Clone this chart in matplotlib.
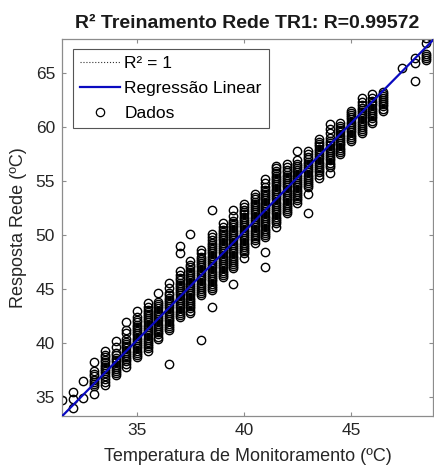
import matplotlib
matplotlib.use("Agg")
import matplotlib.pyplot as plt
from matplotlib.lines import Line2D
import numpy as np

plt.rcParams['font.family'] = ['Liberation Sans', 'DejaVu Sans']

# ---- data ----
titulo = "R² Treinamento Rede TR1: R=0.99572"
xlabel_txt = "Temperatura de Monitoramento (ºC)"
ylabel_txt = "Resposta Rede (ºC)"
legenda = ["R² = 1", "Regressão Linear", "Dados"]

x_colunas = [31.5, 32.0, 32.5, 33.0, 33.5, 34.0, 34.5, 35.0, 35.5, 36.0, 36.5,
             37.0, 37.5, 38.0, 38.5, 39.0, 39.5, 40.0, 40.5, 41.0, 41.5, 42.0,
             42.5, 43.0, 43.5, 44.0, 44.5, 45.0, 45.5, 46.0, 46.5, 47.4, 48.0, 48.5]

y_31_5 = [34.7]
y_32_0 = [34.0, 34.8, 35.5]
y_32_5 = [34.9, 36.5]
y_33_0 = [35.3, 36.0, 36.2, 36.4, 36.6, 36.9, 37.1, 37.4, 38.2]
y_33_5 = [36.1, 36.4, 36.7, 36.9, 37.2, 37.4, 37.6, 37.8, 38.0, 38.2, 38.4, 38.7, 38.9, 39.3]
y_34_0 = [37.0, 37.2, 37.4, 37.6, 37.8, 38.0, 38.2, 38.4, 38.6, 38.9, 39.1, 39.6, 40.2]
y_34_5 = [37.8, 38.1, 38.3, 38.5, 38.7, 38.9, 39.1, 39.3, 39.5, 39.7, 39.9, 40.1, 40.4,
          40.9, 41.2, 41.9]
y_35_0 = [38.7, 38.9, 39.1, 39.3, 39.5, 39.7, 39.9, 40.1, 40.3, 40.5, 40.7, 40.9, 41.1,
          41.3, 41.5, 41.7, 41.9, 42.1, 42.4, 43.0]
y_35_5 = [39.3, 39.5, 39.7, 39.9, 40.1, 40.3, 40.5, 40.7, 40.9, 41.1, 41.3, 41.5, 41.7,
          41.9, 42.1, 42.3, 42.5, 42.7, 42.9, 43.1, 43.3, 43.7]
y_36_0 = [40.4, 40.6, 40.8, 41.0, 41.2, 41.4, 41.6, 41.8, 42.0, 42.2, 42.4, 42.6, 42.8,
          43.0, 43.2, 43.4, 43.6, 43.8, 44.6]
y_36_5 = [38.1, 41.2, 41.4, 41.6, 41.8, 42.0, 42.2, 42.4, 42.6, 42.8, 43.0, 43.2, 43.4,
          43.6, 43.8, 44.0, 44.2, 44.4, 44.6, 45.1, 45.6]
y_37_0 = [42.4, 42.6, 42.8, 43.0, 43.2, 43.4, 43.6, 43.8, 44.0, 44.2, 44.4, 44.6, 44.8,
          45.0, 45.2, 45.4, 45.6, 45.8, 46.0, 46.3, 46.7, 48.3, 49.0]
y_37_5 = [42.8, 43.0, 43.2, 43.4, 43.6, 43.8, 44.0, 44.2, 44.4, 44.6, 44.8, 45.0, 45.2,
          45.4, 45.6, 45.8, 46.0, 46.2, 46.4, 46.6, 46.8, 47.0, 47.2, 47.6, 50.1]
y_38_0 = [40.3, 44.4, 44.6, 44.8, 45.0, 45.2, 45.4, 45.6, 45.8, 46.0, 46.2, 46.4, 46.6,
          46.8, 47.0, 47.2, 47.4, 47.6, 47.8, 48.0, 48.3, 48.6]
y_38_5 = [43.3, 44.9, 45.1, 45.3, 45.5, 45.7, 45.9, 46.1, 46.3, 46.5, 46.7, 46.9, 47.1,
          47.3, 47.5, 47.7, 47.9, 48.1, 48.3, 48.5, 48.7, 48.9, 49.1, 49.3, 49.5, 49.8,
          50.1, 52.3]
y_39_0 = [46.1, 46.3, 46.5, 46.7, 46.9, 47.1, 47.3, 47.5, 47.7, 47.9, 48.1, 48.3, 48.5,
          48.7, 48.9, 49.1, 49.3, 49.5, 49.7, 49.9, 50.1, 50.3, 50.5, 50.7, 51.1]
y_39_5 = [45.5, 46.9, 47.1, 47.3, 47.5, 47.7, 47.9, 48.1, 48.3, 48.5, 48.7, 48.9, 49.1,
          49.3, 49.5, 49.7, 49.9, 50.1, 50.3, 50.5, 50.7, 50.9, 51.1, 51.3, 51.8, 52.3]
y_40_0 = [47.9, 48.3, 48.5, 48.7, 48.9, 49.1, 49.3, 49.5, 49.7, 49.9, 50.1, 50.3, 50.5,
          50.7, 50.9, 51.1, 51.3, 51.5, 51.7, 51.9, 52.1, 52.3, 52.6, 52.9]
y_40_5 = [49.3, 49.5, 49.7, 49.9, 50.1, 50.3, 50.5, 50.7, 50.9, 51.1, 51.3, 51.5, 51.7,
          51.9, 52.1, 52.3, 52.5, 52.7, 52.9, 53.1, 53.3, 53.5, 53.8]
y_41_0 = [47.0, 48.4, 49.8, 50.0, 50.2, 50.4, 50.6, 50.8, 51.0, 51.2, 51.4, 51.6, 51.8,
          52.0, 52.2, 52.4, 52.6, 52.8, 53.0, 53.2, 53.4, 53.6, 53.8, 54.0, 54.2, 54.4,
          54.8, 55.2]
y_41_5 = [50.7, 51.1, 51.3, 51.5, 51.7, 51.9, 52.1, 52.3, 52.5, 52.7, 52.9, 53.1, 53.3,
          53.5, 53.7, 53.9, 54.1, 54.3, 54.5, 54.7, 54.9, 55.1, 55.3, 55.5, 55.7, 55.9,
          56.2, 56.4]
y_42_0 = [52.0, 52.2, 52.4, 52.6, 52.8, 53.0, 53.2, 53.4, 53.6, 53.8, 54.0, 54.2, 54.4,
          54.6, 54.8, 55.0, 55.2, 55.4, 55.6, 55.8, 56.0, 56.3, 56.6]
y_42_5 = [53.0, 53.2, 53.4, 53.6, 53.8, 54.0, 54.2, 54.4, 54.6, 54.8, 55.0, 55.2, 55.4,
          55.6, 55.8, 56.0, 56.2, 56.4, 56.6, 56.9, 57.8]
y_43_0 = [52.0, 53.8, 54.4, 54.6, 54.8, 55.0, 55.2, 55.4, 55.6, 55.8, 56.0, 56.2, 56.4,
          56.6, 56.8, 57.0, 57.2, 57.5, 57.8]
y_43_5 = [55.3, 55.6, 55.8, 56.0, 56.2, 56.4, 56.6, 56.8, 57.0, 57.2, 57.4, 57.6, 57.8,
          58.0, 58.2, 58.4, 58.6, 58.9]
y_44_0 = [55.7, 56.3, 56.5, 56.7, 56.9, 57.1, 57.3, 57.5, 57.7, 57.9, 58.1, 58.3, 58.5,
          58.7, 59.0, 59.4, 59.8, 60.3]
y_44_5 = [57.5, 57.7, 57.9, 58.1, 58.3, 58.5, 58.7, 58.9, 59.1, 59.3, 59.5, 59.7, 59.9,
          60.1, 60.4]
y_45_0 = [58.7, 58.9, 59.1, 59.3, 59.5, 59.7, 59.9, 60.1, 60.3, 60.5, 60.7, 60.9, 61.1,
          61.3, 61.5]
y_45_5 = [59.4, 59.6, 59.8, 60.0, 60.2, 60.4, 60.6, 60.8, 61.0, 61.2, 61.4, 61.6, 61.8,
          62.0, 62.3, 62.7]
y_46_0 = [60.4, 60.6, 60.8, 61.0, 61.2, 61.4, 61.6, 61.8, 62.0, 62.2, 62.4, 62.7, 63.1]
y_46_5 = [61.5, 61.7, 61.9, 62.1, 62.3, 62.5, 62.7, 62.9, 63.1, 63.2]
y_47_4 = [65.5]
y_48_0 = [64.3, 65.9, 66.4]
y_48_5 = [66.2, 66.4, 66.6, 66.8, 67.8, 68.2]

y_colunas = [y_31_5, y_32_0, y_32_5, y_33_0, y_33_5, y_34_0, y_34_5, y_35_0, y_35_5,
             y_36_0, y_36_5, y_37_0, y_37_5, y_38_0, y_38_5, y_39_0, y_39_5, y_40_0,
             y_40_5, y_41_0, y_41_5, y_42_0, y_42_5, y_43_0, y_43_5, y_44_0, y_44_5,
             y_45_0, y_45_5, y_46_0, y_46_5, y_47_4, y_48_0, y_48_5]

# linear regression coefficients (y = a*x + b)
reg_a = 2.01
reg_b = -30.1

xlim = (31.5, 48.83)
ylim = (33.24, 68.15)
xticks = [35, 40, 45]
yticks = [35, 40, 45, 50, 55, 60, 65]

# ---- figure ----
W, H = 435, 470
fig = plt.figure(figsize=(W / 100, H / 100), dpi=100)
ax = fig.add_axes([62 / W, 1 - 416 / H, (433 - 62) / W, (416 - 39) / H])

xs = np.concatenate([[xc] * len(yc) for xc, yc in zip(x_colunas, y_colunas)])
ys = np.concatenate(y_colunas)
ax.plot(xs, ys, linestyle='none', marker='o', markersize=6.0, markerfacecolor='none',
        markeredgecolor='black', markeredgewidth=1.0, zorder=2)

xl = np.array(xlim)
ax.plot(xl, reg_a * xl + reg_b, color='#0a0ac0', linewidth=1.6, zorder=3)

ax.set_xlim(*xlim)
ax.set_ylim(*ylim)
ax.set_xticks(xticks)
ax.set_yticks(yticks)

spine_col = '#8c8c8c'
for s in ax.spines.values():
    s.set_color(spine_col)
    s.set_linewidth(0.9)
ax.tick_params(direction='in', length=3, width=0.8, color=spine_col,
               top=True, right=True, labelsize=12.5, labelcolor='#262626', pad=5)

ax.set_xlabel(xlabel_txt, fontsize=13, color='#262626', labelpad=7)
ax.set_ylabel(ylabel_txt, fontsize=13, color='#262626', labelpad=6)
ax.set_title(titulo, fontsize=14, fontweight='bold', color='#1a1a1a', pad=8)

handles = [
    Line2D([], [], color='#333333', linestyle=':', linewidth=0.8),
    Line2D([], [], color='#0a0ac0', linewidth=1.6),
    Line2D([], [], linestyle='none', marker='o', markersize=6.0, markerfacecolor='none',
           markeredgecolor='black', markeredgewidth=0.9),
]
leg = ax.legend(handles, legenda, loc='upper left', bbox_to_anchor=(0.03, 0.973),
                borderaxespad=0, fontsize=12.5, frameon=True, fancybox=False,
                handlelength=2.3, handletextpad=0.25, labelspacing=0.55,
                borderpad=0.4, framealpha=1)
leg.get_frame().set_edgecolor('#555555')
leg.get_frame().set_linewidth(0.8)

fig.savefig('out.png', dpi=100)
